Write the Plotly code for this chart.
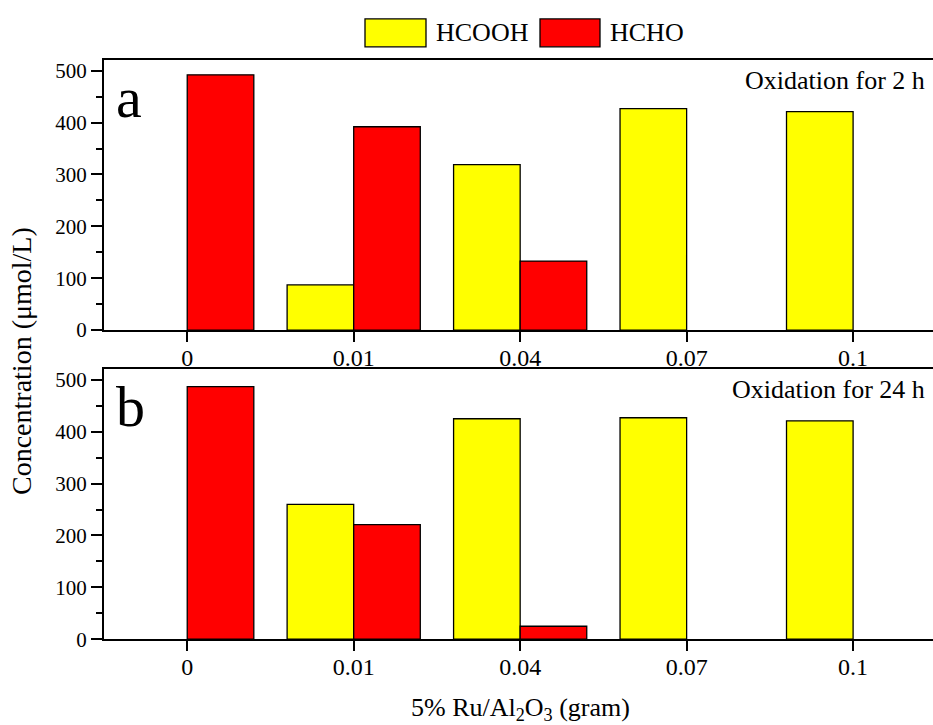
import plotly.graph_objects as go

categories = ["0", "0.01", "0.04", "0.07", "0.1"]
series_names = ["HCOOH", "HCHO"]
series_colors = ["#FFFF00", "#FF0000"]
hcooh_2h = [0, 87, 319, 427, 421]
hcho_2h = [492, 392, 133, 0, 0]
hcooh_24h = [0, 260, 425, 427, 421]
hcho_24h = [487, 221, 25, 0, 0]
y_ticks = [0, 100, 200, 300, 400, 500]
panel_labels = ["a", "b"]
panel_notes = ["Oxidation for 2 h", "Oxidation for 24 h"]

W, H = 933, 725
H_EFF = 714  # effective vertical extent seen in the photographed page
FONT = "Liberation Serif"

def py(px):
    return 1 - px / H_EFF

fig = go.Figure()
panels = [(hcooh_2h, hcho_2h, "x", "y"), (hcooh_24h, hcho_24h, "x2", "y2")]
for hc, hh, xa, ya in panels:
    for name, vals, col in zip(series_names, [hc, hh], series_colors):
        widths = [1.3 if v else 0 for v in vals]
        fig.add_trace(go.Bar(x=categories, y=vals, name=name, xaxis=xa, yaxis=ya,
                             marker=dict(color=col, line=dict(color="black", width=widths)),
                             showlegend=False))

xdom = [104 / W, 1.0]
common_x = dict(type="category", range=[-0.5, 4.48], showline=True, linecolor="black",
                linewidth=2, mirror=True, ticks="outside", ticklen=10, tickwidth=2,
                tickcolor="black", showgrid=False, zeroline=False, ticklabelstandoff=-5,
                tickfont=dict(family=FONT, size=24, color="black"), domain=xdom)
common_y = dict(range=[0, 521], showline=True, linecolor="black", linewidth=2,
                mirror=False, ticks="outside", ticklen=11, tickwidth=2, tickcolor="black",
                tickvals=y_ticks, showgrid=False, zeroline=False,
                tickfont=dict(family=FONT, size=21, color="black"),
                minor=dict(ticks="outside", ticklen=6, tickwidth=1.5, tickcolor="black", dtick=50))

fig.update_layout(
    width=W, height=H, autosize=False, margin=dict(l=0, r=0, t=0, b=0),
    paper_bgcolor="white", plot_bgcolor="white",
    barmode="group", bargap=0.2, bargroupgap=0,
    xaxis=dict(common_x, anchor="y"),
    yaxis=dict(common_y, anchor="x", domain=[py(330), py(59)]),
    xaxis2=dict(common_x, anchor="y2"),
    yaxis2=dict(common_y, anchor="x2", domain=[py(640), py(369)]),
    font=dict(family=FONT, color="black"),
)

ann = []
for i, (lab, note) in enumerate(zip(panel_labels, panel_notes)):
    ya = "y domain" if i == 0 else "y2 domain"
    ann.append(dict(text=lab, xref="x domain", yref=ya, x=0.012, y=0.99, xanchor="left",
                    yanchor="top", showarrow=False, font=dict(family=FONT, size=58)))
    ann.append(dict(text=note, xref="paper", yref=ya, x=927 / W, y=0.985, xanchor="right",
                    yanchor="top", showarrow=False, font=dict(family=FONT, size=26)))

ann.append(dict(text="Concentration (μmol/L)", xref="paper", yref="paper", x=22 / W,
                y=py(361), textangle=-90, showarrow=False, xanchor="center", yanchor="middle",
                font=dict(family=FONT, size=28)))
ann.append(dict(text="5% Ru/Al<sub>2</sub>O<sub>3</sub> (gram)", xref="paper", yref="paper",
                x=520 / W, y=py(710), showarrow=False, xanchor="center", yanchor="middle",
                font=dict(family=FONT, size=26)))

# legend
shapes = []
leg_boxes = [(365, 426, 434), (540, 600, 608)]
for (x0, x1, tx), name, col in zip(leg_boxes, series_names, series_colors):
    shapes.append(dict(type="rect", xref="paper", yref="paper", x0=x0 / W, x1=x1 / W,
                       y0=py(46), y1=py(18), fillcolor=col, line=dict(color="black", width=1.3)))
    ann.append(dict(text=name, xref="paper", yref="paper", x=tx / W, y=py(32), xanchor="left",
                    yanchor="middle", showarrow=False, font=dict(family=FONT, size=26)))

fig.update_layout(annotations=ann, shapes=shapes)
fig.write_html(
    "out.html",
    config={"displayModeBar": False},
    post_script="document.body.style.margin='0';document.body.style.overflow='hidden';",
)
